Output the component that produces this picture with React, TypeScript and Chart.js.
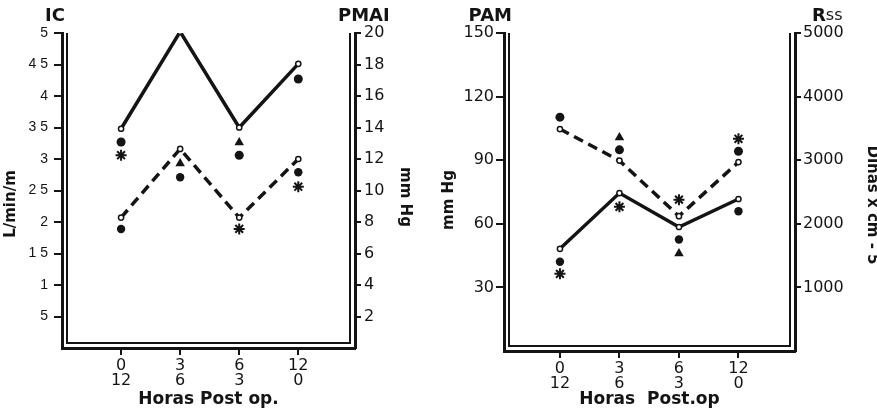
import React, { useEffect, useRef } from "react";
import { Chart, registerables } from "chart.js";

Chart.register(...registerables);

// ---------- data ----------
const hoursTop = ["0", "3", "6", "12"];
const hoursBottom = ["12", "6", "3", "0"];

// Left panel: IC (L/min/m, left axis) and PMAI (mm Hg, right axis)
const icTicks = [0.5, 1, 1.5, 2, 2.5, 3, 3.5, 4, 4.5, 5];
const icTickLabels = ["5", "1", "1 5", "2", "2 5", "3", "3 5", "4", "4 5", "5"];
const pmaiTicks = [2, 4, 6, 8, 10, 12, 14, 16, 18, 20];
const pmaiTickLabels = ["2", "4", "6", "8", "10", "12", "14", "16", "18", "20"];
const icValues = [3.48, 5.02, 3.5, 4.51];
const pmaiValues = [8.28, 12.64, 8.28, 12.0];
const icCirclesA = [3.27, null, 3.06, 4.27];
const icCirclesB = [1.89, 2.71, null, 2.79];
const icStars = [3.06, 5.16, 1.89, 2.56];
const icTriangles = [null, 2.93, 3.26, null];

// Right panel: PAM (mm Hg, left axis) and Rss (Dinas x cm-5, right axis)
const pamTicks = [30, 60, 90, 120, 150];
const pamTickLabels = ["30", "60", "90", "120", "150"];
const rssTicks = [1000, 2000, 3000, 4000, 5000];
const rssTickLabels = ["1000", "2000", "3000", "4000", "5000"];
const pamValues = [104.7, 89.8, 63.6, 89.1];
const rssValues = [1607, 2483, 1950, 2390];
const pamCirclesA = [110.3, 94.9, null, 94.2];
const pamCirclesB = [42.1, null, 52.6, 65.9];
const pamStars = [36.4, 68.0, 71.4, 100.1];
const pamTriangles = [null, 100.7, 46.0, null];

// ---------- styling ----------
const INK = "#141414";
const TITLE_FONT = '"DejaVu Sans"';
const TICK_FONT = '"DejaVu Sans"';

type TextPart = { text: string; font: string };
type TextSpec = {
  parts: TextPart[];
  anchor: "left" | "right";
  dx: number;
  y: number;
  align: "left" | "right" | "center";
  rotate?: number;
};

type AxisSpec = {
  min: number;
  max: number;
  ticks: number[];
  labels: string[];
  fontFamily: string;
  fontSize: number;
  tickLength: number;
  padding: number;
  width: number;
};

type PanelSpec = {
  width: number;
  left: number;
  xMin: number;
  xMax: number;
  bottomHeight: number;
  xTitle: string;
  yLeft: AxisSpec;
  yRight: AxisSpec;
  solid: { values: number[]; axis: "y" | "y2" };
  dashed: { values: number[]; axis: "y" | "y2" };
  circlesA: (number | null)[];
  circlesB: (number | null)[];
  stars: (number | null)[];
  triangles: (number | null)[];
  texts: TextSpec[];
};

const toPoints = (vals: (number | null)[]) =>
  vals
    .map((v, i) => (v == null ? null : { x: i, y: v }))
    .filter((p) => p !== null) as { x: number; y: number }[];

const framePlugin = {
  id: "frameAndTexts",
  beforeDatasetsDraw(chart: any) {
    const { ctx, chartArea: a } = chart;
    const inset = 5;
    ctx.save();
    ctx.strokeStyle = INK;
    ctx.lineWidth = 2;
    ctx.beginPath();
    ctx.moveTo(a.left + inset, a.top);
    ctx.lineTo(a.left + inset, a.bottom - inset);
    ctx.lineTo(a.right - inset, a.bottom - inset);
    ctx.lineTo(a.right - inset, a.top);
    ctx.stroke();
    ctx.restore();
  },
  afterDraw(chart: any, _args: any, opts: any) {
    const { ctx, chartArea: a } = chart;
    const texts: TextSpec[] = opts.texts || [];
    ctx.save();
    ctx.fillStyle = INK;
    ctx.textBaseline = "middle";
    for (const t of texts) {
      const x = (t.anchor === "left" ? a.left : a.right) + t.dx;
      let total = 0;
      for (const p of t.parts) {
        ctx.font = p.font;
        total += ctx.measureText(p.text).width;
      }
      let start = t.align === "left" ? 0 : t.align === "right" ? -total : -total / 2;
      ctx.save();
      ctx.translate(x, t.y);
      if (t.rotate) ctx.rotate((t.rotate * Math.PI) / 180);
      ctx.textAlign = "left";
      for (const p of t.parts) {
        ctx.font = p.font;
        ctx.fillText(p.text, start, 0);
        start += ctx.measureText(p.text).width;
      }
      ctx.restore();
    }
    ctx.restore();
  },
};

function yScale(ax: AxisSpec, position: "left" | "right") {
  return {
    type: "linear",
    position,
    min: ax.min,
    max: ax.max,
    afterBuildTicks: (scale: any) => {
      scale.ticks = ax.ticks.map((v) => ({ value: v }));
    },
    afterFit: (scale: any) => {
      scale.width = ax.width;
    },
    ticks: {
      autoSkip: false,
      color: INK,
      padding: ax.padding,
      font: { family: ax.fontFamily, size: ax.fontSize },
      callback: (_v: any, i: number) => ax.labels[i],
    },
    grid: {
      display: true,
      drawOnChartArea: false,
      drawTicks: true,
      tickLength: ax.tickLength,
      color: INK,
      lineWidth: 2,
    },
    border: { display: true, color: INK, width: 3 },
  };
}

function Panel({ spec }: { spec: PanelSpec }) {
  const ref = useRef<HTMLCanvasElement | null>(null);
  useEffect(() => {
    if (!ref.current) return;
    const lineStyle = {
      borderColor: INK,
      borderWidth: 3.5,
      pointRadius: 2.6,
      pointBackgroundColor: "#ffffff",
      pointBorderColor: INK,
      pointBorderWidth: 1.5,
      tension: 0,
      fill: false,
    };
    const markerStyle = { showLine: false, borderColor: INK, backgroundColor: INK };
    const chart = new Chart(ref.current, {
      type: "line",
      data: {
        datasets: [
          {
            ...lineStyle,
            data: toPoints(spec.dashed.values),
            yAxisID: spec.dashed.axis,
            borderDash: [10, 6],
          },
          {
            ...lineStyle,
            data: toPoints(spec.solid.values),
            yAxisID: spec.solid.axis,
          },
          {
            ...markerStyle,
            data: toPoints(spec.circlesA),
            yAxisID: "y",
            pointStyle: "circle",
            pointRadius: 4.5,
            pointBackgroundColor: INK,
            pointBorderWidth: 0,
          },
          {
            ...markerStyle,
            data: toPoints(spec.circlesB),
            yAxisID: "y",
            pointStyle: "circle",
            pointRadius: 4.2,
            pointBackgroundColor: INK,
            pointBorderWidth: 0,
          },
          {
            ...markerStyle,
            data: toPoints(spec.triangles),
            yAxisID: "y",
            pointStyle: "triangle",
            pointRadius: 5.5,
            pointBackgroundColor: INK,
            pointBorderWidth: 0,
          },
          {
            ...markerStyle,
            data: toPoints(spec.stars),
            yAxisID: "y",
            pointStyle: "star",
            pointRadius: 5.5,
            pointBorderColor: INK,
            pointBorderWidth: 2,
          },
        ] as any,
      },
      options: {
        responsive: false,
        animation: false,
        devicePixelRatio: 1,
        layout: { padding: { top: 33, left: 0, right: 0, bottom: 0 } },
        plugins: {
          legend: { display: false },
          tooltip: { enabled: false },
          frameAndTexts: { texts: spec.texts },
        } as any,
        scales: {
          x: {
            type: "linear",
            min: spec.xMin,
            max: spec.xMax,
            afterBuildTicks: (scale: any) => {
              scale.ticks = hoursTop.map((_h, i) => ({ value: i }));
            },
            afterFit: (scale: any) => {
              scale.height = spec.bottomHeight;
            },
            ticks: {
              autoSkip: false,
              maxRotation: 0,
              color: INK,
              padding: 3,
              font: { family: TICK_FONT, size: 16, lineHeight: 0.95 },
              callback: (_v: any, i: number) => [hoursTop[i], hoursBottom[i]],
            },
            grid: {
              display: true,
              drawOnChartArea: false,
              drawTicks: true,
              tickLength: 7,
              color: INK,
              lineWidth: 2,
            },
            border: { display: true, color: INK, width: 3 },
            title: {
              display: true,
              text: spec.xTitle,
              color: INK,
              font: { family: TITLE_FONT, size: 17, weight: "bold" },
              padding: { top: 0, bottom: 3 },
            },
          },
          y: yScale(spec.yLeft, "left"),
          y2: yScale(spec.yRight, "right"),
        } as any,
      },
      plugins: [framePlugin as any],
    });
    return () => chart.destroy();
  }, [spec]);
  return (
    <canvas
      ref={ref}
      width={spec.width}
      height={413}
      style={{ position: "absolute", left: spec.left, top: 0, width: spec.width, height: 413, display: "block" }}
    />
  );
}

const bold = (size: number) => `bold ${size}px ${TITLE_FONT}`;
const normal = (size: number) => `${size}px ${TITLE_FONT}`;

const leftPanel: PanelSpec = {
  width: 438,
  left: 0,
  xMin: -1,
  xMax: 3.96,
  bottomHeight: 65,
  xTitle: "Horas Post op.",
  yLeft: {
    min: 0, max: 5, ticks: icTicks, labels: icTickLabels,
    fontFamily: '"Liberation Sans"', fontSize: 14, tickLength: 8, padding: 6, width: 62,
  },
  yRight: {
    min: 0, max: 20, ticks: pmaiTicks, labels: pmaiTickLabels,
    fontFamily: TICK_FONT, fontSize: 16, tickLength: 6, padding: 3, width: 83,
  },
  solid: { values: icValues, axis: "y" },
  dashed: { values: pmaiValues, axis: "y2" },
  circlesA: icCirclesA,
  circlesB: icCirclesB,
  stars: icStars,
  triangles: icTriangles,
  texts: [
    { parts: [{ text: "IC", font: bold(18) }], anchor: "left", dx: 3, y: 16, align: "right" },
    { parts: [{ text: "PMAI", font: bold(18) }], anchor: "right", dx: -17, y: 16, align: "left" },
    { parts: [{ text: "L/min/m", font: bold(15) }], anchor: "left", dx: -51, y: 204, align: "center", rotate: -90 },
    { parts: [{ text: "mm Hg", font: bold(15) }], anchor: "right", dx: 50, y: 197, align: "center", rotate: 90 },
  ],
};

const rightPanel: PanelSpec = {
  width: 439,
  left: 438,
  xMin: -0.94,
  xMax: 3.95,
  bottomHeight: 62,
  xTitle: "Horas  Post.op",
  yLeft: {
    min: 0, max: 150, ticks: pamTicks, labels: pamTickLabels,
    fontFamily: TICK_FONT, fontSize: 16, tickLength: 8, padding: 2, width: 66,
  },
  yRight: {
    min: 0, max: 5000, ticks: rssTicks, labels: rssTickLabels,
    fontFamily: TICK_FONT, fontSize: 16, tickLength: 6, padding: 2, width: 82,
  },
  solid: { values: rssValues, axis: "y2" },
  dashed: { values: pamValues, axis: "y" },
  circlesA: pamCirclesA,
  circlesB: pamCirclesB,
  stars: pamStars,
  triangles: pamTriangles,
  texts: [
    { parts: [{ text: "PAM", font: bold(18) }], anchor: "left", dx: 8, y: 16, align: "right" },
    {
      parts: [
        { text: "R", font: bold(18) },
        { text: "ss", font: normal(16) },
      ],
      anchor: "right", dx: 17, y: 16, align: "left",
    },
    { parts: [{ text: "mm Hg", font: bold(15) }], anchor: "left", dx: -55, y: 200, align: "center", rotate: -90 },
    { parts: [{ text: "Dinas x cm - 5", font: bold(15) }], anchor: "right", dx: 77, y: 205, align: "center", rotate: 90 },
  ],
};

export default function App() {
  return (
    <div
      style={{
        position: "absolute",
        left: 0,
        top: 0,
        width: 877,
        height: 413,
        background: "#ffffff",
        overflow: "hidden",
      }}
    >
      <Panel spec={leftPanel} />
      <Panel spec={rightPanel} />
    </div>
  );
}
